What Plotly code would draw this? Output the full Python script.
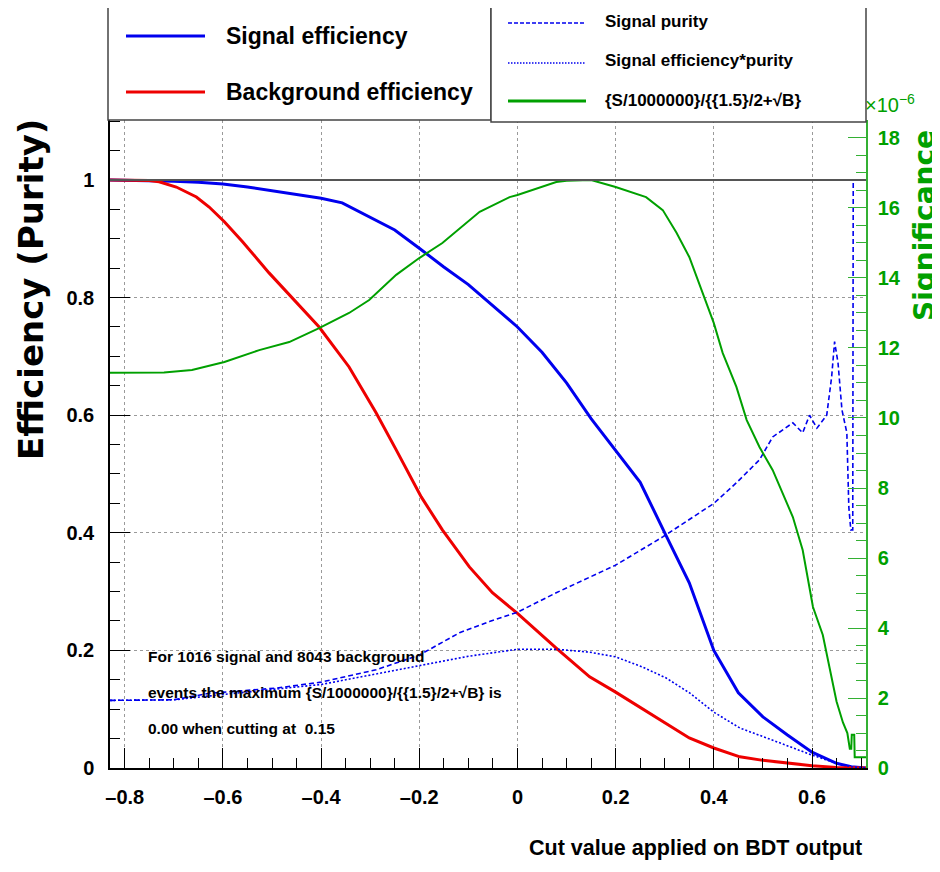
import plotly.graph_objects as go

# ---------------- data ----------------
sig_x = [-0.83, -0.75, -0.7, -0.65, -0.6, -0.55, -0.5, -0.45, -0.4, -0.357, -0.3, -0.25, -0.2, -0.15,
         -0.1, -0.05, 0.0, 0.05, 0.1, 0.15, 0.2, 0.25, 0.3, 0.35, 0.4, 0.45, 0.5, 0.55, 0.6, 0.65, 0.68, 0.71]
sig_eff = [1.0, 0.999, 0.998, 0.996, 0.993, 0.988, 0.982, 0.976, 0.969, 0.961, 0.937, 0.915, 0.884, 0.852,
           0.822, 0.786, 0.750, 0.707, 0.655, 0.594, 0.541, 0.486, 0.400, 0.315, 0.200, 0.128, 0.087, 0.056,
           0.027, 0.008, 0.002, 0.0]

bkg_x = [-0.83, -0.75, -0.73, -0.695, -0.654, -0.628, -0.597, -0.56, -0.506, -0.465, -0.404, -0.343,
         -0.288, -0.247, -0.216, -0.196, -0.153, -0.098, -0.051, 0.0, 0.079, 0.147, 0.2, 0.249, 0.303,
         0.35, 0.4, 0.453, 0.5, 0.555, 0.6, 0.65, 0.71]
bkg_eff = [1.0, 0.999, 0.997, 0.988, 0.971, 0.954, 0.929, 0.895, 0.842, 0.805, 0.750, 0.682,
           0.604, 0.541, 0.493, 0.461, 0.405, 0.342, 0.298, 0.263, 0.204, 0.155, 0.129, 0.104, 0.076,
           0.051, 0.034, 0.019, 0.013, 0.008, 0.004, 0.001, 0.0]

pur_x = [-0.83, -0.7, -0.628, -0.49, -0.4, -0.288, -0.2, -0.118, -0.057, 0.0, 0.079, 0.2, 0.296, 0.4,
         0.446, 0.493, 0.52, 0.561, 0.581, 0.595, 0.61, 0.63, 0.64, 0.646, 0.653, 0.661, 0.671, 0.675,
         0.679, 0.683, 0.684, 0.71]
purity = [0.115, 0.116, 0.127, 0.136, 0.146, 0.167, 0.192, 0.230, 0.249, 0.265, 0.298, 0.345, 0.393, 0.450,
          0.485, 0.524, 0.563, 0.587, 0.570, 0.600, 0.578, 0.600, 0.665, 0.725, 0.689, 0.609, 0.570, 0.444,
          0.405, 0.405, 1.0, 1.0]

ep_x = [-0.83, -0.7, -0.6, -0.5, -0.4, -0.3, -0.2, -0.1, -0.016, 0.0, 0.079, 0.147, 0.2, 0.254, 0.303,
        0.35, 0.4, 0.453, 0.508, 0.555, 0.6, 0.65, 0.68, 0.71]
eff_pur = [0.115, 0.116, 0.125, 0.134, 0.142, 0.158, 0.174, 0.190, 0.200, 0.202, 0.202, 0.197, 0.189, 0.172,
           0.153, 0.128, 0.095, 0.068, 0.051, 0.036, 0.022, 0.008, 0.002, 0.0]

sg_x = [-0.83, -0.72, -0.663, -0.597, -0.526, -0.465, -0.404, -0.343, -0.302, -0.247, -0.2, -0.153,
        -0.077, -0.016, 0.0, 0.079, 0.1, 0.15, 0.2, 0.262, 0.296, 0.324, 0.35, 0.378, 0.4, 0.418, 0.446,
        0.467, 0.493, 0.52, 0.561, 0.581, 0.602, 0.622, 0.636, 0.65, 0.663, 0.672, 0.677, 0.68, 0.681,
        0.686, 0.687, 0.71]
signif = [11.29, 11.30, 11.37, 11.60, 11.94, 12.17, 12.57, 13.00, 13.37, 14.09, 14.57, 15.00,
          15.89, 16.31, 16.37, 16.74, 16.78, 16.80, 16.60, 16.31, 15.94, 15.29, 14.60, 13.57, 12.71, 11.86,
          10.89, 9.94, 9.17, 8.51, 7.17, 6.23, 4.60, 3.80, 2.90, 1.90, 1.30, 1.00, 0.55, 0.55, 0.95,
          0.95, 0.31, 0.31]

x_ticks = [-0.8, -0.6, -0.4, -0.2, 0, 0.2, 0.4, 0.6]
x_labels = ["–0.8", "–0.6", "–0.4", "–0.2", "0", "0.2", "0.4", "0.6"]
y_ticks = [0, 0.2, 0.4, 0.6, 0.8, 1]
y2_ticks = [0, 2, 4, 6, 8, 10, 12, 14, 16, 18]

legend_left = ["Signal efficiency", "Background efficiency"]
legend_right = ["Signal purity", "Signal efficiency*purity", "{S/1000000}/{{1.5}/2+√B}"]
info_lines = ["For 1016 signal and 8043 background",
              "events the maximum {S/1000000}/{{1.5}/2+√B} is",
              "0.00 when cutting at  0.15"]

# ---------------- styling ----------------
# the page body adds an 8 px margin, so the figure is 8 px smaller than the window
OFF = 8
W, H = 940 - OFF, 872 - OFF
# plot frame in window pixels
L, R, T, B = 110, 866, 120, 768
FONT = "Liberation Sans, Arial, sans-serif"
WIDE = "DejaVu Sans, Liberation Sans, Arial, sans-serif"
BLUE, RED, GREEN = "#0000ee", "#ee0000", "#00a000"
GREEN_AX = "#33b033"


def px(xp):
    return (xp - L) / (R - L)


def py(yp):
    return (B - yp) / (B - T)


fig = go.Figure()
fig.add_trace(go.Scatter(x=sig_x, y=sig_eff, mode="lines", line=dict(color=BLUE, width=3), yaxis="y"))
fig.add_trace(go.Scatter(x=bkg_x, y=bkg_eff, mode="lines", line=dict(color=RED, width=3), yaxis="y"))
fig.add_trace(go.Scatter(x=pur_x, y=purity, mode="lines",
                         line=dict(color=BLUE, width=1.6, dash="5px,3px"), yaxis="y"))
fig.add_trace(go.Scatter(x=ep_x, y=eff_pur, mode="lines",
                         line=dict(color=BLUE, width=1.6, dash="2px,2px"), yaxis="y"))
fig.add_trace(go.Scatter(x=sg_x, y=signif, mode="lines", line=dict(color=GREEN, width=2), yaxis="y2"))

tickfont = dict(family=FONT, size=20, color="black", weight="bold")

fig.update_layout(
    width=W, height=H,
    margin=dict(l=L - OFF, r=940 - R, t=T - OFF, b=872 - B, pad=0),
    paper_bgcolor="white", plot_bgcolor="white",
    showlegend=False,
    xaxis=dict(range=[-0.83, 0.71], tickvals=x_ticks, ticktext=x_labels, ticks="inside", ticklen=20,
               tickwidth=1, tickcolor="black", showline=True, linecolor="black", linewidth=1.5,
               minor=dict(dtick=0.05, tick0=0, ticks="inside", ticklen=10, tickcolor="black", showgrid=False),
               showgrid=True, gridcolor="#9a9a9a", griddash="dot", gridwidth=1, zeroline=False,
               tickfont=tickfont, ticklabelstandoff=10),
    yaxis=dict(range=[0, 1.102], tickvals=y_ticks, ticks="inside", ticklen=20, tickwidth=1,
               tickcolor="black", showline=True, linecolor="black", linewidth=1.5,
               minor=dict(dtick=0.05, tick0=0, ticks="inside", ticklen=10, tickcolor="black", showgrid=False),
               showgrid=True, gridcolor="#9a9a9a", griddash="dot", gridwidth=1, zeroline=False,
               tickfont=tickfont, ticklabelstandoff=10),
    yaxis2=dict(range=[0, 18.514], tickvals=y2_ticks, overlaying="y", side="right", ticks="inside",
                ticklen=18, tickwidth=1, tickcolor=GREEN_AX, showline=True, linecolor=GREEN_AX, linewidth=1.5,
                minor=dict(dtick=0.5, tick0=0, ticks="inside", ticklen=10, tickcolor=GREEN_AX, showgrid=False),
                showgrid=False, zeroline=False,
                tickfont=dict(family=FONT, size=20, color=GREEN, weight="bold"), ticklabelstandoff=6),
)

# horizontal reference line at efficiency 1
fig.add_shape(type="line", xref="paper", yref="y", x0=0, x1=1, y0=1, y1=1,
              line=dict(color="#555555", width=2))

shapes = []
# legend boxes
shapes.append(dict(type="rect", xref="paper", yref="paper", x0=px(108), x1=px(491), y0=py(120), y1=py(6),
                   line=dict(color="#444444", width=1.5), fillcolor="white", layer="above"))
shapes.append(dict(type="rect", xref="paper", yref="paper", x0=px(491), x1=px(866), y0=py(122), y1=py(6),
                   line=dict(color="#444444", width=1.5), fillcolor="white", layer="above"))
# legend samples
leg_left_style = [dict(color=BLUE, width=3), dict(color=RED, width=3)]
leg_left_y = [36, 92]
for st, yy in zip(leg_left_style, leg_left_y):
    shapes.append(dict(type="line", xref="paper", yref="paper", x0=px(126), x1=px(205), y0=py(yy), y1=py(yy),
                       line=st, layer="above"))
leg_right_style = [dict(color=BLUE, width=1.5, dash="4px,2px"), dict(color=BLUE, width=1.5, dash="1.5px,1.5px"),
                   dict(color=GREEN, width=3)]
leg_right_y = [23, 63, 101]
for st, yy in zip(leg_right_style, leg_right_y):
    shapes.append(dict(type="line", xref="paper", yref="paper", x0=px(508), x1=px(586), y0=py(yy), y1=py(yy),
                       line=st, layer="above"))
for s in shapes:
    fig.add_shape(**s)

ann = []
for txt, yy in zip(legend_left, leg_left_y):
    ann.append(dict(text=txt, x=px(224), y=py(yy), xanchor="left", yanchor="middle",
                    font=dict(family=FONT, size=23, color="black", weight="bold")))
for txt, yy in zip(legend_right, [21, 61, 100]):
    ann.append(dict(text=txt, x=px(603), y=py(yy), xanchor="left", yanchor="middle",
                    font=dict(family=FONT, size=17, color="black", weight="bold")))
for txt, yy in zip(info_lines, [656, 692, 728]):
    ann.append(dict(text=txt, x=px(146), y=py(yy), xanchor="left", yanchor="middle",
                    font=dict(family=FONT, size=15.5, color="black", weight="bold")))
# axis titles
ann.append(dict(text="Cut value applied on BDT output", x=px(864), y=py(848), xanchor="right", yanchor="middle",
                font=dict(family=FONT, size=21.5, color="black", weight="bold")))
ann.append(dict(text="Efficiency (Purity)", x=px(31), y=py(290), xanchor="center", yanchor="middle",
                textangle=-90, font=dict(family=WIDE, size=34, color="black", weight="bold")))
ann.append(dict(text="Significance", x=px(925), y=py(226), xanchor="center", yanchor="middle",
                textangle=-90, font=dict(family=WIDE, size=28, color=GREEN, weight="bold")))
ann.append(dict(text="×10<sup>−6</sup>", x=px(863), y=py(103), xanchor="left", yanchor="middle",
                font=dict(family=FONT, size=20, color=GREEN)))
for a in ann:
    fig.add_annotation(xref="paper", yref="paper", showarrow=False, **a)

fig.write_html("out.html")
